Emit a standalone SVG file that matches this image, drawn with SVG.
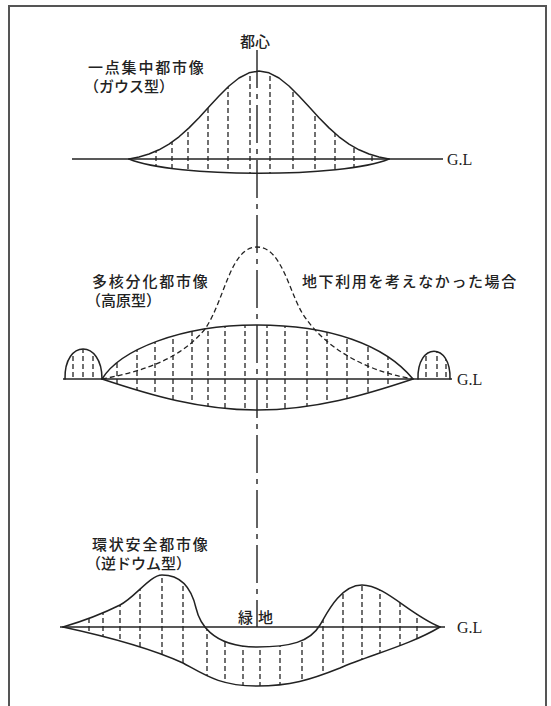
<svg xmlns="http://www.w3.org/2000/svg" width="551" height="706" viewBox="0 0 551 706">
<style>
.ln{fill:none;stroke:#222;stroke-width:1.5;stroke-linejoin:round;stroke-linecap:round}
.dash{fill:none;stroke:#222;stroke-width:1.3;stroke-dasharray:5 3}
.gl{fill:none;stroke:#222;stroke-width:1.4}
.axis{fill:none;stroke:#222;stroke-width:1.4;stroke-dasharray:38 6 5 6}
.jp{font-family:"Noto Sans CJK JP","Noto Sans",sans-serif;font-size:15px;font-weight:500;fill:#222}
.glt{font-family:"Liberation Serif",serif;font-size:16px;fill:#222}
</style>
<defs>
<clipPath id="c1"><path d="M129,159 L139,157 149,154 159,149.8 169,144.1 179,136.8 189,127.9 199,117.7 209,106.8 219,96 229,86 239,78 249,72.8 259,71 269,72.8 279,78 289,86 299,96 309,106.8 319,117.7 329,127.9 339,136.8 349,144.1 359,149.8 369,154 379,157 389,159 C343,178 175,178 129,159 Z"/></clipPath>
<clipPath id="c2"><path d="M102,379 C120,350 180,325 257,325 C330,325 385,345 413,379 C365,395 315,410 257,410 C200,410 150,395 102,379 Z M65,379 C64,339 102,339 102,379 Z M418,379 C417,342 451,342 450,379 Z"/></clipPath>
<clipPath id="c3"><path d="M63,627 C80,622 100,615 120,605 C135,597.5 150,575 162,575 C176,575 190,582 196,608 C199,621 210,647 257,647 C290,647 310,642 320,625 C326,615 340,585 362,585 C385,585 410,615 440,627 C410,645 370,655 340,668 C310,680 290,686 257,686 C220,686 205,675 183,663 C150,648 100,635 63,627 Z"/></clipPath>
</defs>
<rect width="551" height="706" fill="#fff"/>
<g id="frame" fill="none" stroke="#555" stroke-width="2">
<path d="M9,706 L9,6 L546,6 L546,706"/>
</g>
<g id="connectors">
<line class="axis" x1="257" y1="50" x2="257" y2="627"/>
</g>
<g id="gauss">
<line class="gl" x1="72" y1="159" x2="443" y2="159"/>
<path class="ln" d="M129,159 L139,157 149,154 159,149.8 169,144.1 179,136.8 189,127.9 199,117.7 209,106.8 219,96 229,86 239,78 249,72.8 259,71 269,72.8 279,78 289,86 299,96 309,106.8 319,117.7 329,127.9 339,136.8 349,144.1 359,149.8 369,154 379,157 389,159"/>
<path class="ln" d="M129,159 C175,178 343,178 389,159"/>
<g clip-path="url(#c1)">
<path class="dash" d="M156,60V180M172,60V180M188,60V180M208,60V180M228,60V180M250,60V180M270,60V180M293,60V180M315,60V180M335,60V180M354,60V180M372,60V180"/>
</g>
<text class="jp" x="255" y="47" text-anchor="middle">都心</text>
<text class="jp" x="88" y="73" letter-spacing="1.8">一点集中都市像</text>
<text class="jp" x="84" y="92">（ガウス型）</text>
<text class="glt" x="447" y="165">G.L</text>
</g>
<g id="plateau">
<line class="gl" x1="63" y1="379" x2="452" y2="379"/>
<path class="ln" d="M102,379 C120,350 180,325 257,325 C330,325 385,345 413,379"/>
<path class="ln" d="M102,379 C150,395 200,410 257,410 C315,410 365,395 413,379"/>
<path class="ln" d="M65,379 C64,339 102,339 102,379"/>
<path class="ln" d="M418,379 C417,342 451,342 450,379"/>
<g clip-path="url(#c2)">
<path class="dash" d="M117,315V415M137,315V415M155,315V415M173,315V415M192,315V415M208,315V415M225,315V415M245,315V415M267,315V415M285,315V415M307,315V415M327,315V415M347,315V415M368,315V415M388,315V415M73,340V380M83,340V380M93,340V380M426,340V380M437,340V380M446,340V380"/>
</g>
<path class="dash" d="M102,379 C140,372 180,360 205,329 C225,300 230,247 257,247 C284,247 290,300 307,320 C325,345 360,370 413,379"/>
<text class="jp" x="92" y="287" letter-spacing="1.8">多核分化都市像</text>
<text class="jp" x="86" y="306">（高原型）</text>
<text class="jp" x="302" y="287" letter-spacing="1.6">地下利用を考えなかった場合</text>
<text class="glt" x="457" y="385">G.L</text>
</g>
<g id="ring">
<line class="gl" x1="60" y1="627" x2="445" y2="627"/>
<path class="ln" d="M63,627 C80,622 100,615 120,605 C135,597.5 150,575 162,575 C176,575 190,582 196,608 C199,621 210,647 257,647 C290,647 310,642 320,625 C326,615 340,585 362,585 C385,585 410,615 440,627"/>
<path class="ln" d="M63,627 C100,635 150,648 183,663 C205,675 220,686 257,686 C290,686 310,680 340,668 C370,655 410,645 440,627"/>
<g clip-path="url(#c3)">
<path class="dash" d="M89,570V690M103,570V690M120,570V690M140,570V690M162,570V690M183,570V690M207,570V690M225,570V690M243,570V690M260,570V690M280,570V690M302,570V690M323,570V690M343,570V690M362,570V690M380,570V690M400,570V690M417,570V690"/>
</g>
<text class="jp" x="92" y="550" letter-spacing="1.8">環状安全都市像</text>
<text class="jp" x="86" y="569">（逆ドウム型）</text>
<text class="jp" x="238" y="623" letter-spacing="5">緑地</text>
<text class="glt" x="457" y="633">G.L</text>
</g>
</svg>
